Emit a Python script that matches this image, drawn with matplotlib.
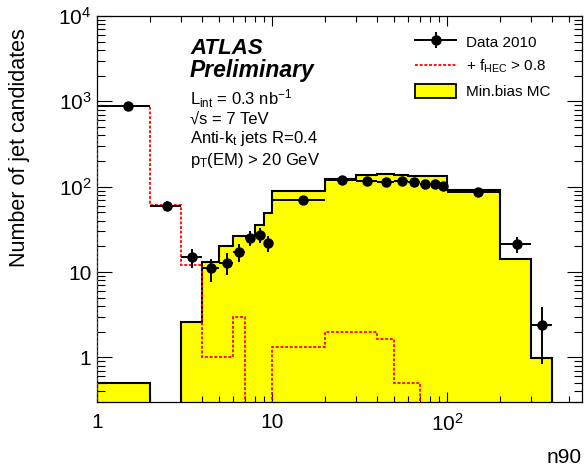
import numpy as np
import matplotlib.pyplot as plt
from matplotlib.lines import Line2D
from matplotlib.patches import Patch
from matplotlib.legend_handler import HandlerTuple
from matplotlib.ticker import FixedLocator, FixedFormatter, LogLocator, NullFormatter

plt.rcParams['font.family'] = ['Liberation Sans', 'DejaVu Sans']
plt.rcParams['mathtext.default'] = 'regular'

# n90 binning: unit bins up to 10, then tens up to 100, then hundreds
edges = [1, 2, 3, 4, 5, 6, 7, 8, 9, 10, 20, 30, 40, 50, 60, 70, 80, 90, 100, 200, 300, 400]

data_counts = [870, 59.7, 14.8, 11.0, 12.9, 17.3, 25.3, 27.2, 21.7, 70.3,
               121, 115, 113, 117, 113, 108, 108, 101, 86, 21.3, 2.38]
data_err = [29.5, 7.7, 3.8, 3.3, 3.6, 4.2, 5.0, 5.2, 4.7, 8.4,
            11.0, 10.7, 10.6, 10.8, 10.6, 10.4, 10.4, 10.0, 9.3, 4.6, 1.54]

mc_counts = [0.5, 0, 2.6, 13.0, 20.4, 26.5, 26.5, 35.7, 49.8, 88,
             124, 136, 140, 136, 135, 134, 134, 133, 92, 14.1, 0.98]

# fHEC > 0.8 selection only populated up to n90 = 70
hec_edges = edges[:16]
hec_counts = [880, 61, 12.2, 1.0, 1.0, 3.0, 0, 0, 0, 1.31, 2.0, 2.0, 1.62, 0.5, 0.5]

xtick_vals = [1, 10, 100]
xtick_labels = ['1', '10', '$10^{2}$']
ytick_vals = [1, 10, 100, 1000, 10000]
ytick_labels = ['1', '10', '$10^{2}$', '$10^{3}$', '$10^{4}$']

fig = plt.figure(figsize=(5.85, 4.69), dpi=100)
ax = fig.add_axes([0.1658, 0.1429, 0.829, 0.823])
ax.set_xscale('log')
ax.set_yscale('log')

ax.stairs(mc_counts, edges, fill=True, color='#ffff00', zorder=1)
ax.stairs(mc_counts, edges, color='black', lw=1.5, zorder=2)
ax.stairs(hec_counts, hec_edges, color='#ff0000', lw=1.3,
          linestyle=(0, (1.6, 1.0)), zorder=3)

e = np.array(edges, dtype=float)
xc = 0.5 * (e[:-1] + e[1:])
xerr = 0.5 * (e[1:] - e[:-1])
ax.errorbar(xc, data_counts, xerr=xerr, yerr=data_err, fmt='o', color='black',
            ms=6.5, lw=1.4, capsize=0, zorder=4)

ax.set_xlim(1, 590)
ax.set_ylim(0.3, 1e4)

ax.xaxis.set_major_locator(FixedLocator(xtick_vals))
ax.xaxis.set_major_formatter(FixedFormatter(xtick_labels))
ax.xaxis.set_minor_locator(LogLocator(base=10, subs=np.arange(2, 10), numticks=20))
ax.xaxis.set_minor_formatter(NullFormatter())
ax.yaxis.set_major_locator(FixedLocator(ytick_vals))
ax.yaxis.set_major_formatter(FixedFormatter(ytick_labels))
ax.yaxis.set_minor_locator(LogLocator(base=10, subs=np.arange(2, 10), numticks=20))
ax.yaxis.set_minor_formatter(NullFormatter())

ax.tick_params(which='both', direction='in', top=True, right=True, width=0.8)
ax.tick_params(axis='x', which='major', length=7.5, pad=8, labelsize=15)
ax.tick_params(axis='x', which='minor', length=4.5)
ax.tick_params(axis='y', which='major', length=11, pad=4, labelsize=15)
ax.tick_params(axis='y', which='minor', length=6)
for sp in ax.spines.values():
    sp.set_linewidth(0.9)

fig.text(20 / 585, 1 - 28 / 469, 'Number of jet candidates', rotation=90,
         ha='center', va='top', fontsize=15.5)
fig.text(582 / 585, 1 - 463 / 469, 'n90', ha='right', va='baseline', fontsize=15)

fig.text(190 / 585, 1 - 54 / 469, 'ATLAS', fontsize=16, fontweight='bold',
         fontstyle='italic', va='baseline')
fig.text(190 / 585, 1 - 77 / 469, 'Preliminary', fontsize=16.5, fontweight='bold',
         fontstyle='italic', va='baseline')
info = ['L$_{int}$ = 0.3 nb$^{-1}$', '√s = 7 TeV',
        'Anti-k$_{t}$ jets R=0.4', 'p$_{T}$(EM) > 20 GeV']
for txt, yb in zip(info, [105, 123, 143, 165]):
    fig.text(190 / 585, 1 - yb / 469, txt, fontsize=12, va='baseline')

# data legend entry: horizontal bar with marker and a short vertical error bar
data_handle = (Line2D([], [], color='black', lw=1.4, marker='o', ms=6.5),
               Line2D([], [], color='black', lw=0, marker='|', ms=12, mew=1.4))
handles = [data_handle,
           Line2D([], [], color='#ff0000', lw=1.3, linestyle=(0, (1.6, 1.0))),
           Patch(facecolor='#ffff00', edgecolor='black', lw=1.3)]
labels = ['Data 2010', '+ f$_{HEC}$ > 0.8', 'Min.bias MC']
ax.legend(handles, labels, loc='upper left', bbox_to_anchor=(415 / 585, 1 - 34 / 469),
          bbox_transform=fig.transFigure, frameon=False, fontsize=11,
          handlelength=2.7, handleheight=1.1, handletextpad=0.65,
          labelspacing=0.55, borderpad=0, borderaxespad=0,
          handler_map={tuple: HandlerTuple(ndivide=1, pad=0)}, numpoints=1)

fig.savefig('out.png', dpi=100)
